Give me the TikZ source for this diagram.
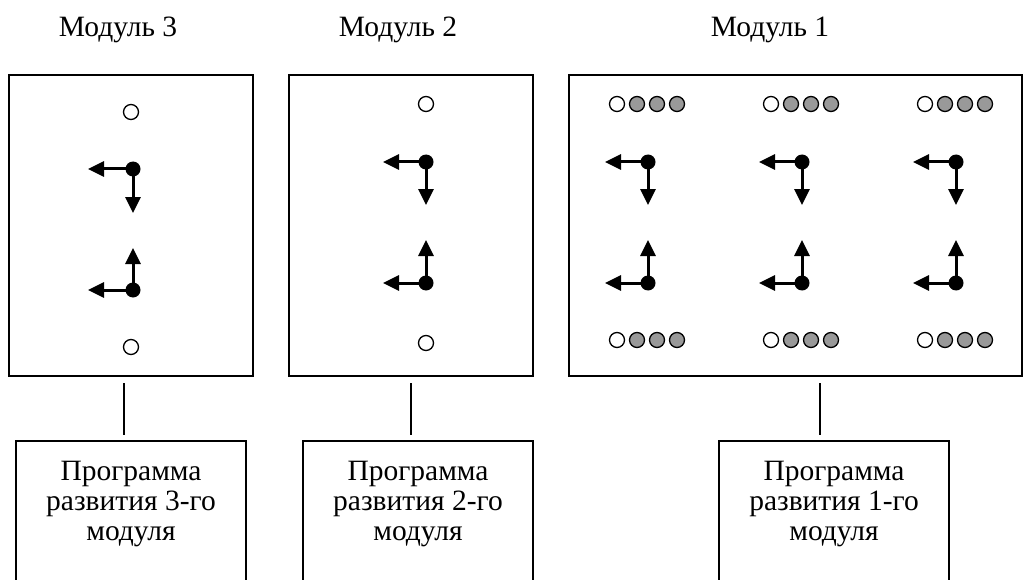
\documentclass[tikz,border=0pt]{standalone}
\usepackage{fontspec}
\setmainfont{Liberation Serif}
\usetikzlibrary{arrows.meta}
\tikzset{
  modbox/.style={draw, line width=2pt, inner sep=0pt, outer sep=0pt},
  progbox/.style={draw, line width=2pt, inner sep=0pt, outer sep=0pt, minimum width=230pt, minimum height=170pt, anchor=north},
  progtext/.style={align=center, font=\fontsize{29.5}{30}\selectfont, inner sep=0pt},
  lbl/.style={font=\fontsize{29.5}{30}\selectfont, anchor=base, inner sep=0pt},
  opn/.style={circle, draw, line width=1.3pt, fill=white, minimum size=15pt, inner sep=0pt},
  gry/.style={circle, draw, line width=1.3pt, fill=black!40, minimum size=15pt, inner sep=0pt},
  dot/.style={circle, fill=black, minimum size=15pt, inner sep=0pt},
  arr/.style={line width=3pt, -{Triangle[length=16pt,width=15pt]}},
  conn/.style={line width=1.6pt}
}
\begin{document}
\begin{tikzpicture}[x=1pt,y=-1pt]
\useasboundingbox (0,0) rectangle (1024,580);
\clip (0,0) rectangle (1024,580);
% labels
\node[lbl] (l3) at (118,37) {Модуль 3};
\node[lbl] (l2) at (398,37) {Модуль 2};
\node[lbl] (l1) at (770,37) {Модуль 1};
% module boxes
\node[modbox, minimum width=244pt, minimum height=301pt] (m3) at (131,225.5) {};
\node[modbox, minimum width=244pt, minimum height=301pt] (m2) at (411,225.5) {};
\node[modbox, minimum width=453pt, minimum height=301pt] (m1) at (795.5,225.5) {};
% program boxes
\node[progbox] (p3) at (131,441) {};
\node[progbox] (p2) at (418,441) {};
\node[progbox] (p1) at (834,441) {};
\node[progtext] (t3) at (131,504) {Программа\\развития 3-го\\модуля};
\node[progtext] (t2) at (418,504) {Программа\\развития 2-го\\модуля};
\node[progtext] (t1) at (834,504) {Программа\\развития 1-го\\модуля};
% connectors
\draw[conn, shorten <=7pt, shorten >=6pt] ([xshift=-7pt]m3.south) -- ([xshift=-7pt]m3.south |- p3.north);
\draw[conn, shorten <=7pt, shorten >=6pt] (m2.south) -- (m2.south |- p2.north);
\draw[conn, shorten <=7pt, shorten >=6pt] ([xshift=24.5pt]m1.south) -- ([xshift=24.5pt]m1.south |- p1.north);
% module 3 content
\node[opn] (o3a) at (131,112) {};
\node[opn] (o3b) at (131,347) {};
\node[dot] (d3a) at (133,169) {};
\node[dot] (d3b) at (133,290) {};
\coordinate (d3aL) at (88,169);
\coordinate (d3aD) at (133,213);
\coordinate (d3bL) at (88,290);
\coordinate (d3bU) at (133,248);
\draw[arr] (d3a.center) -- (d3aL);
\draw[arr] (d3a.center) -- (d3aD);
\draw[arr] (d3b.center) -- (d3bL);
\draw[arr] (d3b.center) -- (d3bU);
% module 2 content
\node[opn] (o2a) at (426,104) {};
\node[opn] (o2b) at (426,343) {};
\node[dot] (d2a) at (426,162) {};
\node[dot] (d2b) at (426,283) {};
\coordinate (d2aL) at (383,162);
\coordinate (d2aD) at (426,205);
\coordinate (d2bL) at (383,283);
\coordinate (d2bU) at (426,240);
\draw[arr] (d2a.center) -- (d2aL);
\draw[arr] (d2a.center) -- (d2aD);
\draw[arr] (d2b.center) -- (d2bL);
\draw[arr] (d2b.center) -- (d2bU);
% module 1 content
\foreach \k/\x in {1/648,2/802,3/956}{
  \foreach \r/\y in {a/104,b/340}{
    \node[opn] (o1\k\r) at (\x-31,\y) {};
    \node[gry] (g1\k\r1) at (\x-11,\y) {};
    \node[gry] (g1\k\r2) at (\x+9,\y) {};
    \node[gry] (g1\k\r3) at (\x+29,\y) {};
  }
  \node[dot] (d1\k a) at (\x,162) {};
  \node[dot] (d1\k b) at (\x,283) {};
  \coordinate (d1\k aL) at (\x-43,162);
  \coordinate (d1\k aD) at (\x,205);
  \coordinate (d1\k bL) at (\x-43,283);
  \coordinate (d1\k bU) at (\x,240);
  \draw[arr] (d1\k a.center) -- (d1\k aL);
  \draw[arr] (d1\k a.center) -- (d1\k aD);
  \draw[arr] (d1\k b.center) -- (d1\k bL);
  \draw[arr] (d1\k b.center) -- (d1\k bU);
}
\end{tikzpicture}
\end{document}
